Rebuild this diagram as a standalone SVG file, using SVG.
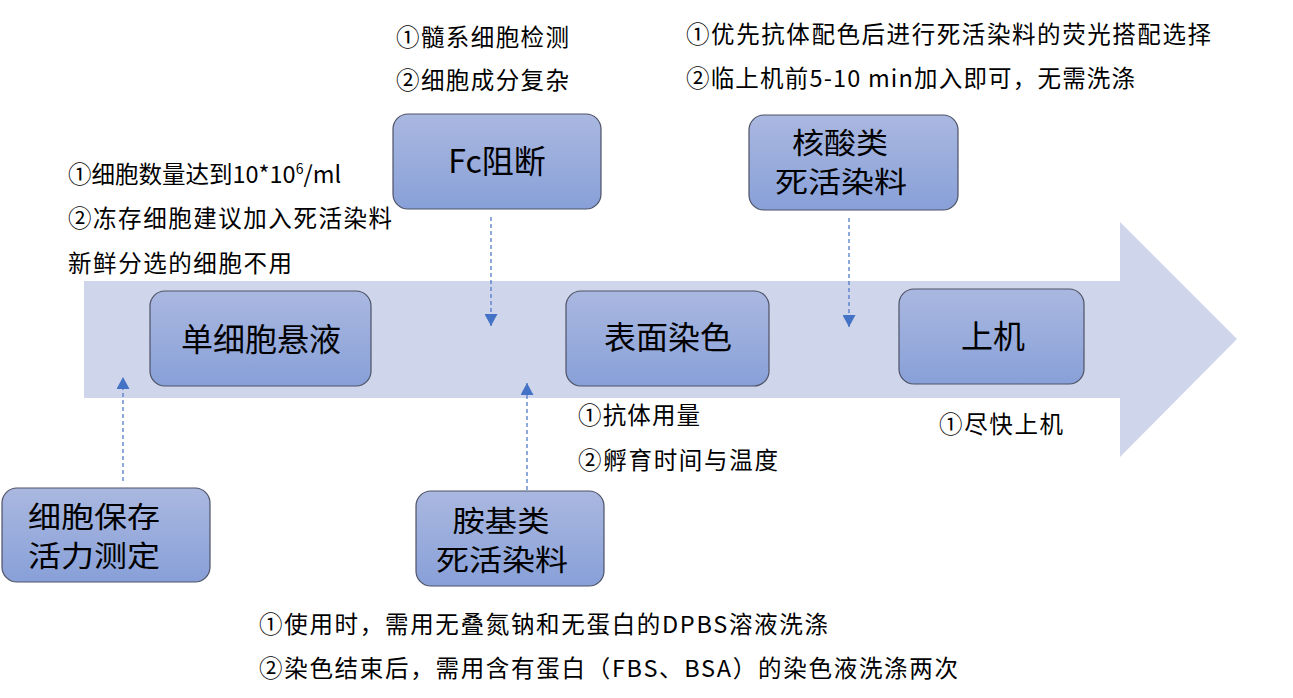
<svg xmlns="http://www.w3.org/2000/svg" width="1293" height="698" viewBox="0 0 1293 698">
<defs>
<linearGradient id="g" x1="0" y1="0" x2="0" y2="1">
<stop offset="0" stop-color="#aab8e0"/>
<stop offset="1" stop-color="#88a0d8"/>
</linearGradient>
<marker id="ah" viewBox="0 0 12 13" refX="12" refY="6.5" markerWidth="12" markerHeight="13" markerUnits="userSpaceOnUse" orient="auto">
<path d="M0,0 L12,6.5 L0,13 Z" fill="#4472c4"/>
</marker>
<style>
.box{fill:url(#g);stroke:#4d5266;stroke-width:1.2}
.lbl{font-family:"Noto Sans CJK SC","Liberation Sans",sans-serif;font-size:32px;fill:#000;text-anchor:middle}
.lbl2{font-family:"Noto Sans CJK SC","Liberation Sans",sans-serif;font-size:29px;fill:#000;text-anchor:middle}
.note{font-family:"Noto Sans CJK SC","Liberation Sans",sans-serif;font-size:23.5px;fill:#000}
.dash{stroke:#4472c4;stroke-width:1.2;stroke-dasharray:4 3;fill:none}
</style>
</defs>
<rect width="1293" height="698" fill="#ffffff"/>
<path d="M84,281 L1120,281 L1120,222 L1237,339 L1120,457 L1120,398 L84,398 Z" fill="#cfd5ea"/>
<g id="connectors">
<path class="dash" d="M123,481 L123,377" marker-end="url(#ah)"/>
<path class="dash" d="M491,217 L491,326" marker-end="url(#ah)"/>
<path class="dash" d="M849,218 L849,327" marker-end="url(#ah)"/>
<path class="dash" d="M527,490 L527,383" marker-end="url(#ah)"/>
</g>
<g id="n1">
<rect class="box" x="150" y="291" width="221" height="95" rx="15"/>
<text class="lbl" x="261" y="351">单细胞悬液</text>
</g>
<g id="n2">
<rect class="box" x="393" y="114" width="208" height="95" rx="15"/>
<text class="lbl" x="497" y="173">Fc阻断</text>
</g>
<g id="n3">
<rect class="box" x="566" y="291" width="203" height="95" rx="15"/>
<text class="lbl" x="668" y="349">表面染色</text>
</g>
<g id="n4">
<rect class="box" x="749" y="115" width="209" height="95" rx="15"/>
<text class="lbl2" x="840" y="154" textLength="96" lengthAdjust="spacingAndGlyphs">核酸类</text>
<text class="lbl2" x="841" y="193" textLength="132" lengthAdjust="spacingAndGlyphs">死活染料</text>
</g>
<g id="n5">
<rect class="box" x="899" y="289" width="185" height="95" rx="15"/>
<text class="lbl" x="993" y="348">上机</text>
</g>
<g id="n6">
<rect class="box" x="2" y="488" width="208" height="94" rx="15"/>
<text class="lbl2" x="94" y="528" textLength="132" lengthAdjust="spacingAndGlyphs">细胞保存</text>
<text class="lbl2" x="94" y="567" textLength="132" lengthAdjust="spacingAndGlyphs">活力测定</text>
</g>
<g id="n7">
<rect class="box" x="416" y="491" width="188" height="95" rx="15"/>
<text class="lbl2" x="501" y="532" textLength="97" lengthAdjust="spacingAndGlyphs">胺基类</text>
<text class="lbl2" x="502" y="571" textLength="132" lengthAdjust="spacingAndGlyphs">死活染料</text>
</g>
<g id="notes">
<text class="note" x="68" y="183">①细胞数量达到10*10<tspan font-size="14" dy="-9">6</tspan><tspan dy="9">/ml</tspan></text>
<text class="note" x="68" y="227" textLength="324">②冻存细胞建议加入死活染料</text>
<text class="note" x="68" y="272" textLength="224">新鲜分选的细胞不用</text>
<text class="note" x="396" y="46" textLength="173">①髓系细胞检测</text>
<text class="note" x="396" y="89" textLength="173">②细胞成分复杂</text>
<text class="note" x="686" y="43" textLength="525">①优先抗体配色后进行死活染料的荧光搭配选择</text>
<text class="note" x="686" y="87" textLength="449">②临上机前5-10 min加入即可，无需洗涤</text>
<text class="note" x="578" y="424" textLength="122">①抗体用量</text>
<text class="note" x="578" y="469" textLength="200">②孵育时间与温度</text>
<text class="note" x="939" y="433" textLength="124">①尽快上机</text>
<text class="note" x="259" y="633" textLength="569">①使用时，需用无叠氮钠和无蛋白的DPBS溶液洗涤</text>
<text class="note" x="259" y="677" textLength="699">②染色结束后，需用含有蛋白（FBS、BSA）的染色液洗涤两次</text>
</g>
</svg>
